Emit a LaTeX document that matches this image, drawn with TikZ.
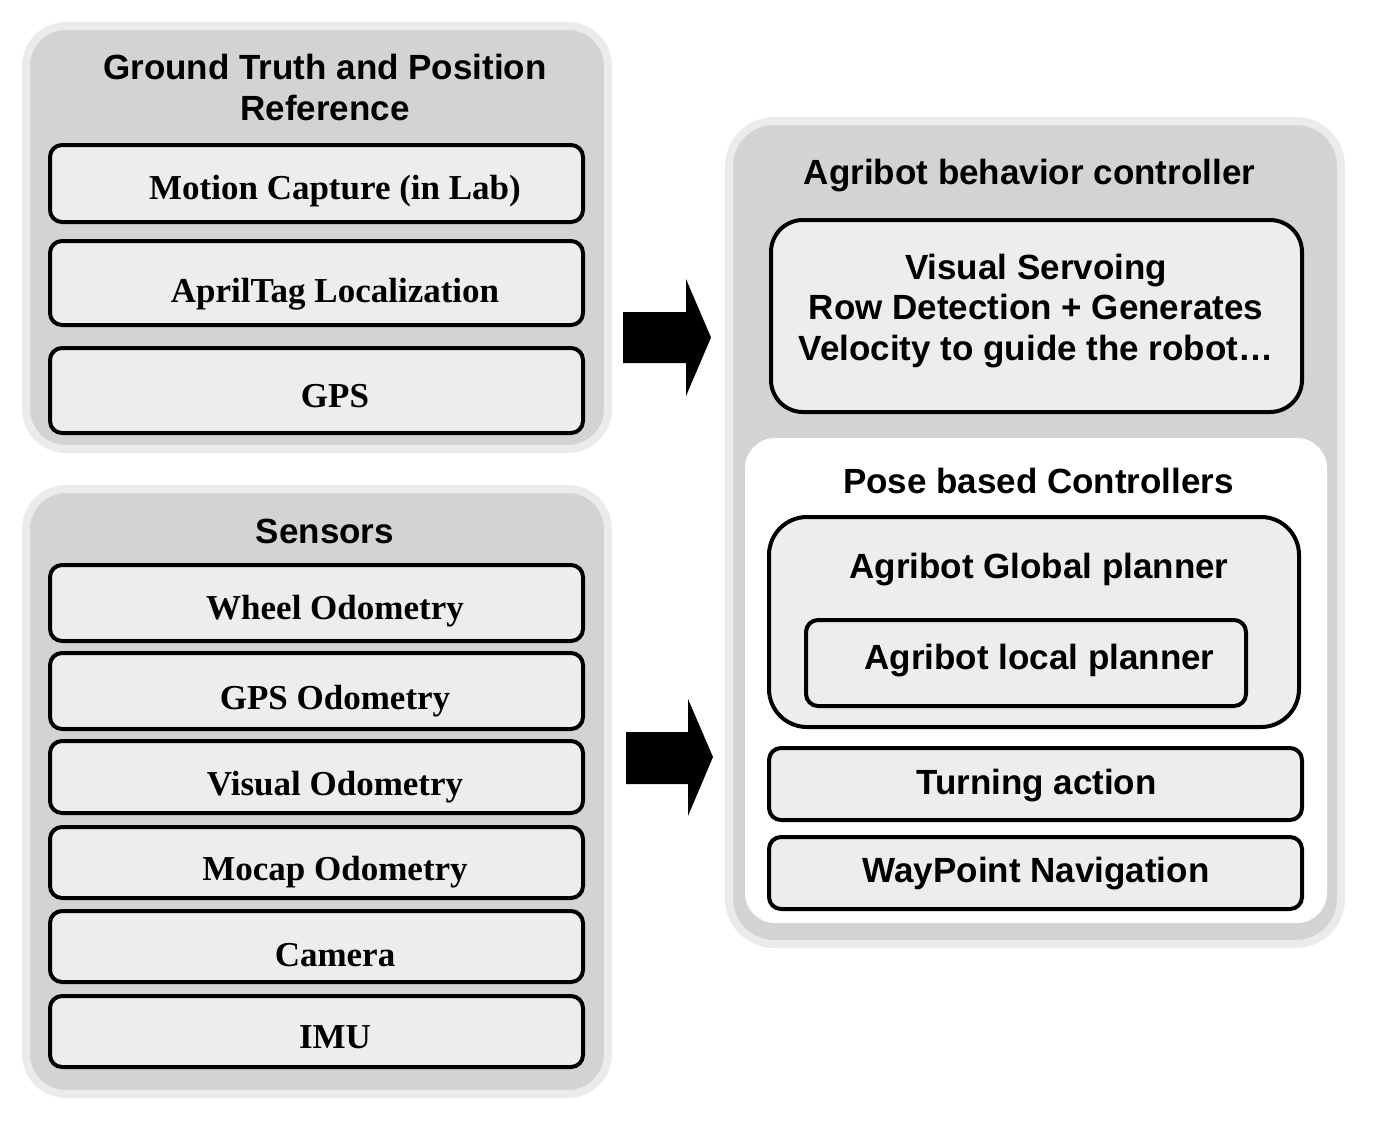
\documentclass[tikz,border=0pt]{standalone}
\usepackage{fontspec}
\newfontfamily\sansb{Liberation Sans}
\newfontfamily\serifb{Liberation Serif}
\definecolor{grpfill}{HTML}{D3D3D3}
\definecolor{grpedge}{HTML}{EBEBEB}
\definecolor{boxfill}{HTML}{EDEDED}
\tikzset{
  grp/.style={fill=grpfill, draw=grpedge, line width=8pt, rounded corners=40pt},
  boxx/.style={draw=black, fill=boxfill, line width=4pt, rounded corners=12pt, inner sep=0pt},
  sanslbl/.style={font=\sansb\bfseries\fontsize{35}{40.5}\selectfont, anchor=base, inner sep=0pt, align=center},
  seriflbl/.style={font=\serifb\bfseries\fontsize{35}{40.5}\selectfont, anchor=base, inner sep=0pt},
  blockarrow/.style={fill=black}
}
\begin{document}
\begin{tikzpicture}[x=1pt,y=-1pt]
\useasboundingbox (0,0) rectangle (1376,1124);
% ---------- Ground truth group
\path[grp] (26,26) rectangle (608,449);
\node[sanslbl] (gttitle) at (325,80) {Ground Truth and Position};
\node[sanslbl] (gttitle2) at (325,120) {Reference};
\draw[boxx] (50,145) rectangle (583,222);
\node[seriflbl] (mc) at (335,199) {Motion Capture (in Lab)};
\draw[boxx] (50,241) rectangle (583,325);
\node[seriflbl] (at) at (335,302) {AprilTag Localization};
\draw[boxx] (50,348) rectangle (583,433);
\node[seriflbl] (gps) at (335,407) {GPS};
% ---------- Sensors group
\path[grp] (26,489) rectangle (608,1094);
\node[sanslbl] (sens) at (325,543) {Sensors};
\draw[boxx] (50,565) rectangle (583,641);
\node[seriflbl] (wo) at (335,619) {Wheel Odometry};
\draw[boxx] (50,653) rectangle (583,729);
\node[seriflbl] (go) at (335,709) {GPS Odometry};
\draw[boxx] (50,741) rectangle (583,813);
\node[seriflbl] (vo) at (335,795) {Visual Odometry};
\draw[boxx] (50,827) rectangle (583,898);
\node[seriflbl] (mo) at (335,880) {Mocap Odometry};
\draw[boxx] (50,911) rectangle (583,982);
\node[seriflbl] (cam) at (335,966) {Camera};
\draw[boxx] (50,996) rectangle (583,1067);
\node[seriflbl] (imu) at (335,1048) {IMU};
% ---------- Block arrows
\fill[blockarrow] (623,312) -- (686,312) -- (686,279) -- (711,337.5) -- (686,396) -- (686,363) -- (623,363) -- cycle;
\fill[blockarrow] (626,732) -- (688,732) -- (688,699) -- (713,757) -- (688,816) -- (688,784) -- (626,784) -- cycle;
% ---------- Behavior controller group
\path[grp, rounded corners=45pt] (729,121) rectangle (1341,944);
\node[sanslbl] (abc) at (1029.5,184) {Agribot behavior controller};
\draw[boxx, rounded corners=32pt] (771,220) rectangle (1302,412);
\node[sanslbl] (vs1) at (1036,279) {Visual Servoing};
\node[sanslbl] (vs2) at (1036,319.5) {Row Detection + Generates};
\node[sanslbl] (vs3) at (1036,360) {Velocity to guide the robot…};
\fill[white, rounded corners=30pt] (745,438) rectangle (1327,923);
\node[sanslbl] (pbc) at (1038.5,493) {Pose based Controllers};
\draw[boxx, rounded corners=38pt] (769,517) rectangle (1299,727);
\node[sanslbl] (agp) at (1039,578) {Agribot Global planner};
\draw[boxx] (806,620) rectangle (1246,706);
\node[sanslbl] (alp) at (1039.5,669) {Agribot local planner};
\draw[boxx] (769,748) rectangle (1302,820);
\node[sanslbl] (ta) at (1036.5,794) {Turning action};
\draw[boxx] (769,837) rectangle (1302,909);
\node[sanslbl] (wp) at (1036,882) {WayPoint Navigation};
\end{tikzpicture}
\end{document}
